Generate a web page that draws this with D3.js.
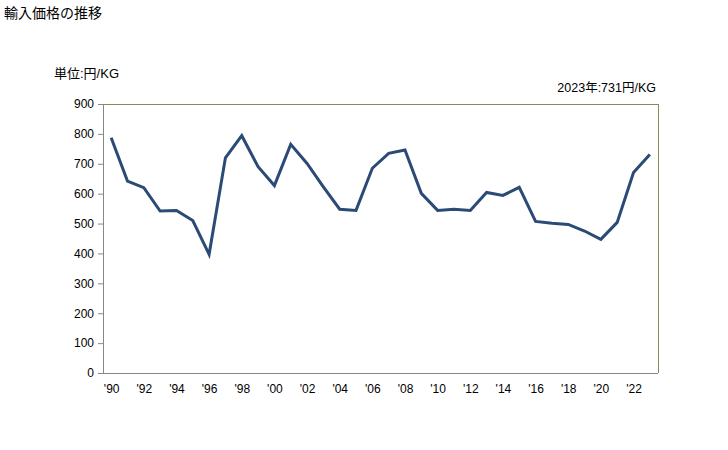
<!DOCTYPE html>
<html>
<head>
<meta charset="utf-8">
<script src="https://cdn.jsdelivr.net/npm/d3@7"></script>
<style>
  body { margin: 0; background: #fff; }
  text { font-family: "Liberation Sans", "Noto Sans CJK JP", sans-serif; fill: #000; }
</style>
</head>
<body>
<svg width="728" height="450"></svg>
<script>
// years and import price (yen/kg)
var years = d3.range(1990, 2024);
var prices = [787, 642, 620, 542, 544, 510, 397, 720, 794, 690,
              627, 765, 701, 623, 548, 544, 685, 735, 746, 601,
              544, 548, 544, 604, 594, 621, 507, 501, 497, 475,
              447, 504, 671, 731];
var yTicks = [0, 100, 200, 300, 400, 500, 600, 700, 800, 900];
var xTickYears = d3.range(1990, 2024, 2);

var svg = d3.select('svg');
var padding = {t: 104, r: 70, b: 77, l: 103};
var chartWidth = 728 - padding.l - padding.r;
var chartHeight = 450 - padding.t - padding.b;

var data = years.map(function(y, i) { return {year: y, value: prices[i]}; });

var xScale = d3.scalePoint()
    .domain(years)
    .range([0, chartWidth])
    .padding(0.5);

var yScale = d3.scaleLinear()
    .domain([0, 900])
    .range([chartHeight, 0]);

// title + labels
svg.append('text')
    .attr('x', 4).attr('y', 18)
    .style('font-size', '14px')
    .text('輸入価格の推移');

svg.append('text')
    .attr('x', 54).attr('y', 78)
    .style('font-size', '13px')
    .text('単位:円/KG');

svg.append('text')
    .attr('x', 656).attr('y', 92)
    .attr('text-anchor', 'end')
    .style('font-size', '12.5px')
    .text('2023年:731円/KG');

var chart = svg.append('g')
    .attr('transform', 'translate(' + [padding.l, padding.t] + ')');

// frame: olive top/right, grey left/bottom
chart.append('line')
    .attr('x1', 0).attr('x2', chartWidth).attr('y1', 0.5).attr('y2', 0.5)
    .style('stroke', '#8c8a58');
chart.append('line')
    .attr('x1', chartWidth + 0.5).attr('x2', chartWidth + 0.5).attr('y1', 0).attr('y2', chartHeight)
    .style('stroke', '#8c8a58');

var yAxis = d3.axisLeft(yScale)
    .tickValues(yTicks)
    .tickSize(5)
    .tickPadding(4);

var gy = chart.append('g').call(yAxis);
gy.select('.domain').style('stroke', '#888');
gy.selectAll('.tick line').style('stroke', '#888');
gy.selectAll('text').style('font-size', '12px').style('font-family', '"Liberation Sans", sans-serif');

var xAxis = d3.axisBottom(xScale)
    .tickValues(xTickYears)
    .tickSize(0)
    .tickPadding(11)
    .tickFormat(function(d) { return "'" + String(d).slice(2); });

var gx = chart.append('g')
    .attr('transform', 'translate(0,' + chartHeight + ')')
    .call(xAxis);
gx.select('.domain').attr('d', 'M0,0.5H' + chartWidth).style('stroke', '#888');
gx.selectAll('text').style('font-size', '12px').style('font-family', '"Liberation Sans", sans-serif');

var line = d3.line()
    .x(function(d) { return xScale(d.year); })
    .y(function(d) { return yScale(d.value); });

chart.append('path')
    .datum(data)
    .attr('d', line)
    .style('fill', 'none')
    .style('stroke', '#2b4b76')
    .style('stroke-width', 3)
    .style('stroke-linejoin', 'miter');
</script>
</body>
</html>
